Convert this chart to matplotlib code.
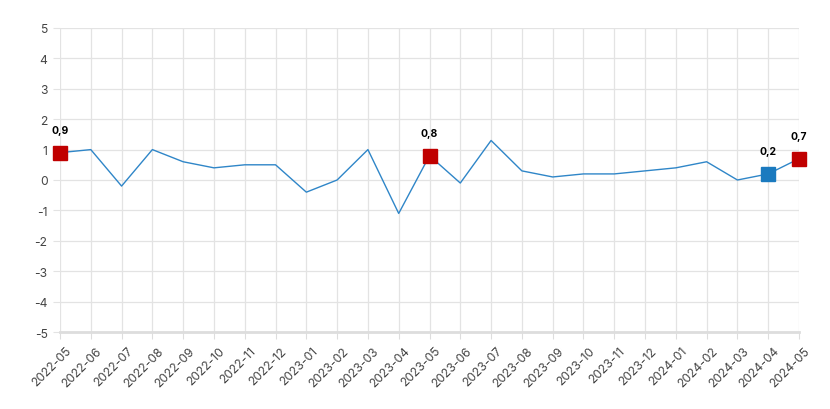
import matplotlib
matplotlib.use("Agg")
import matplotlib.pyplot as plt
from matplotlib.transforms import ScaledTranslation

months = ["2022-05", "2022-06", "2022-07", "2022-08", "2022-09", "2022-10", "2022-11", "2022-12",
          "2023-01", "2023-02", "2023-03", "2023-04", "2023-05", "2023-06", "2023-07", "2023-08",
          "2023-09", "2023-10", "2023-11", "2023-12", "2024-01", "2024-02", "2024-03", "2024-04", "2024-05"]
values = [0.9, 1.0, -0.2, 1.0, 0.6, 0.4, 0.5, 0.5, -0.4, 0.0, 1.0, -1.1, 0.8, -0.1, 1.3, 0.3,
          0.1, 0.2, 0.2, 0.3, 0.4, 0.6, 0.0, 0.2, 0.7]
highlight_red = ["2022-05", "2023-05", "2024-05"]
highlight_blue = ["2024-04"]

plt.rcParams['font.family'] = ['Inter', 'DejaVu Sans']
plt.rcParams['axes.unicode_minus'] = False

fig = plt.figure(figsize=(8.3, 4.1), dpi=100)
ax = fig.add_axes([60/830, 1-333/410, (799-60)/830, (333-29)/410])

x = list(range(len(months)))
ax.plot(x, values, color='#2f86c8', lw=1.0, zorder=3)

for m, c in [(highlight_red, '#c00000'), (highlight_blue, '#1a7abf')]:
    for lab in m:
        i = months.index(lab)
        ax.plot(i, values[i], marker='s', ms=9.5, color=c, mec=c, zorder=4, ls='none', clip_on=False)
        ax.annotate(f"{values[i]:.1f}".replace('.', ','), (i, values[i]), xytext=(0, 13),
                    textcoords='offset points', ha='center', va='bottom', fontsize=7.5,
                    fontweight='bold', color='black', zorder=5, annotation_clip=False)

ax.set_xlim(0, len(months) - 1)
ax.set_ylim(-5, 5)
ax.set_yticks(range(-5, 6))
ax.set_xticks(x)
ax.set_xticklabels(months, rotation=45, ha='right', rotation_mode='anchor')
ax.grid(True, color='#e3e3e3', lw=0.9)
ax.set_axisbelow(True)
for s in ax.spines.values():
    s.set_visible(False)
ax.axhline(-5, color='#dddddd', lw=2, zorder=1, clip_on=False)
ax.tick_params(axis='x', length=5, color='#dddddd', labelsize=8.7, labelcolor='#444444', pad=4)
ax.tick_params(axis='y', length=5, color='#e3e3e3', labelsize=8.7, labelcolor='#444444', pad=4)

offset = ScaledTranslation(5/100, 0, fig.dpi_scale_trans)
for lbl in ax.get_xticklabels():
    lbl.set_transform(lbl.get_transform() + offset)

fig.savefig("out.png", dpi=100)
